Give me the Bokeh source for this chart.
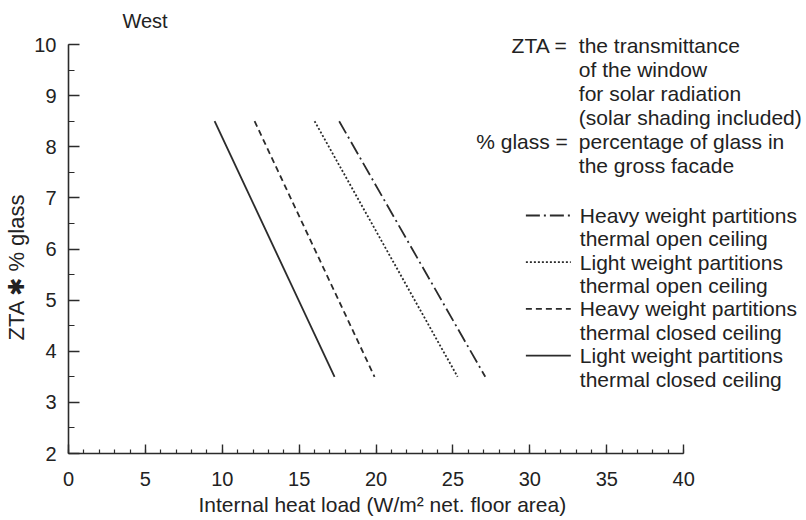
from bokeh.plotting import figure
from bokeh.models import Range1d, SingleIntervalTicker, Label, Title
from bokeh.embed import file_html
from bokeh.resources import INLINE

# ---------------- data ----------------
y_ends = [8.5, 3.5]                      # ZTA * % glass at both ends of each line
heavy_open_x = [17.6, 27.1]              # Heavy weight partitions, thermal open ceiling
light_open_x = [16.0, 25.3]              # Light weight partitions, thermal open ceiling
heavy_closed_x = [12.1, 19.9]            # Heavy weight partitions, thermal closed ceiling
light_closed_x = [9.5, 17.3]             # Light weight partitions, thermal closed ceiling

series_names = [
    ("Heavy weight partitions", "thermal open ceiling"),
    ("Light weight partitions", "thermal open ceiling"),
    ("Heavy weight partitions", "thermal closed ceiling"),
    ("Light weight partitions", "thermal closed ceiling"),
]
series_x = [heavy_open_x, light_open_x, heavy_closed_x, light_closed_x]
series_dash = ["14 4 2 4", "2 2", "6 4", "solid"]

x_min, x_max_axis = 0, 40
y_min, y_max = 2, 10
x_tick_step, x_minor = 5, 5
y_tick_step, y_minor = 1, 2

title_text = "West"
x_label = "Internal heat load (W/m\u00b2 net. floor area)"
y_label = "ZTA \u2731 % glass"
note_left = ["ZTA =", "", "", "", "% glass =", ""]
note_right = ["the transmittance", "of the window", "for solar radiation",
              "(solar shading included)", "percentage of glass in", "the gross facade"]

# ---------------- layout ----------------
W, H = 806, 520
LEFT, BOTTOM = 67, 67          # side panels (frame fills the rest)
XS = 15.4                      # px per x unit
YS = 51.125                    # px per y unit
X_RANGE_MAX = (W - LEFT) / XS  # frame reaches the right edge; axis bounded to 0..40
Y_RANGE_MAX = y_max + 44 / YS  # frame reaches the top edge; axis bounded to 2..10
INK = "#2b2b2b"
TXT = "#222222"
FONT = "Liberation Sans"


def dx(px):  # page pixel -> data x
    return (px - LEFT) / XS


def dy(py):  # page pixel -> data y
    return Y_RANGE_MAX - py / YS


p = figure(width=W, height=H, output_backend="svg", toolbar_location=None,
           x_range=Range1d(x_min, X_RANGE_MAX), y_range=Range1d(y_min, Y_RANGE_MAX),
           min_border_left=LEFT, min_border_right=0,
           min_border_top=0, min_border_bottom=BOTTOM)
p.outline_line_color = None
p.xgrid.visible = False
p.ygrid.visible = False
p.background_fill_color = "white"
p.border_fill_color = "white"

# axes
p.xaxis.ticker = SingleIntervalTicker(interval=x_tick_step, num_minor_ticks=x_minor)
p.yaxis.ticker = SingleIntervalTicker(interval=y_tick_step, num_minor_ticks=y_minor)
p.xaxis.bounds = (x_min, x_max_axis)
p.yaxis.bounds = (y_min, y_max)
for ax in (p.xaxis[0], p.yaxis[0]):
    ax.axis_line_color = INK
    ax.axis_line_width = 1.6
    ax.major_tick_line_color = INK
    ax.minor_tick_line_color = INK
    ax.major_tick_line_width = 1.4
    ax.minor_tick_line_width = 1.2
    ax.major_tick_out = 0
    ax.minor_tick_out = 0
    ax.major_label_text_font = FONT
    ax.major_label_text_font_size = "20px"
    ax.major_label_text_color = TXT
p.xaxis.major_tick_in = 9
p.xaxis.minor_tick_in = 4
p.yaxis.major_tick_in = 11
p.yaxis.minor_tick_in = 6
p.xaxis.major_label_standoff = 18
p.yaxis.major_label_standoff = 12

# axis titles (placed along the bounded axes, not the whole frame)
p.add_layout(Title(text=x_label, align="left", offset=130, standoff=5,
                   text_font=FONT, text_font_size="21px", text_font_style="normal",
                   text_color=TXT, vertical_align="bottom"), "below")
p.add_layout(Title(text=y_label, align="left", offset=113, standoff=4,
                   text_font=FONT, text_font_size="22px", text_font_style="normal",
                   text_color=TXT, vertical_align="middle"), "left")

# data lines
for xs, dash in zip(series_x, series_dash):
    p.line(xs, y_ends, line_color=INK, line_width=1.8, line_dash=dash)

# chart title
p.add_layout(Label(x=dx(121), y=dy(20), text=title_text, text_font=FONT,
                   text_font_size="20px", text_color=TXT,
                   text_baseline="middle", text_align="left"))

# definitions block
NOTE_SEP_PX = 567
NOTE_TEXT_PX = 578
for i, (lt, rt) in enumerate(zip(note_left, note_right)):
    py = 45 + 24 * i
    if lt:
        p.add_layout(Label(x=dx(NOTE_SEP_PX), y=dy(py), text=lt, text_font=FONT,
                           text_font_size="21px", text_color=TXT,
                           text_baseline="middle", text_align="right"))
    p.add_layout(Label(x=dx(NOTE_TEXT_PX), y=dy(py), text=rt, text_font=FONT,
                       text_font_size="21px", text_color=TXT,
                       text_baseline="middle", text_align="left"))

# legend (key line aligned with the first text line of each entry)
KEY_X0, KEY_X1, KEY_TEXT = 525, 570, 579
for i, ((l1, l2), dash) in enumerate(zip(series_names, series_dash)):
    py = 215 + 46.7 * i
    p.line([dx(KEY_X0), dx(KEY_X1)], [dy(py), dy(py)], line_color=INK,
           line_width=1.8, line_dash=dash)
    for j, txt in enumerate((l1, l2)):
        p.add_layout(Label(x=dx(KEY_TEXT), y=dy(py + 23.4 * j), text=txt,
                           text_font=FONT, text_font_size="21px",
                           text_color=TXT, text_baseline="middle",
                           text_align="left"))

open("out.html", "w").write(file_html(p, INLINE))
